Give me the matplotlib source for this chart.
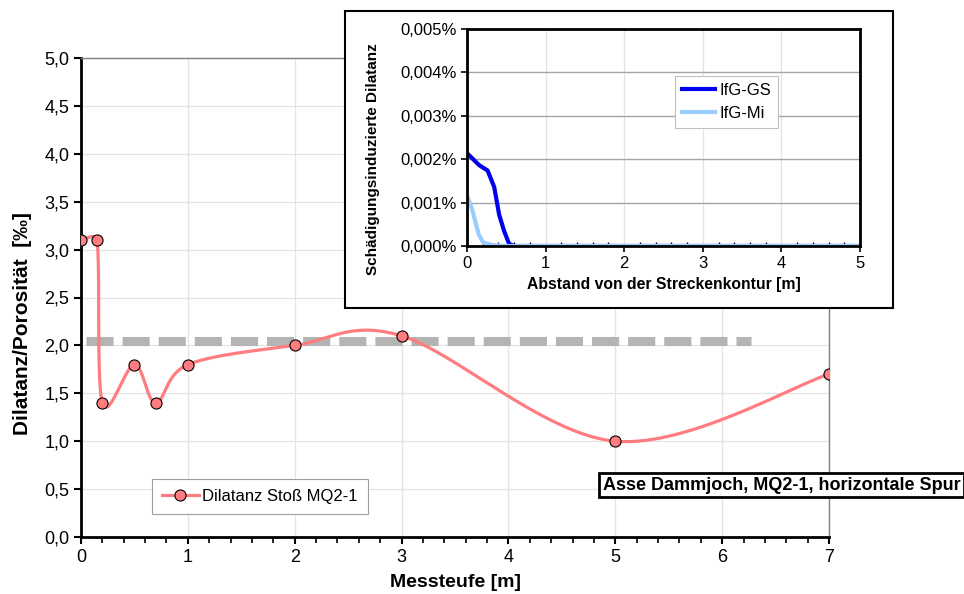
import numpy as np
import matplotlib
matplotlib.use("Agg")
import matplotlib.pyplot as plt
from matplotlib.ticker import FuncFormatter, MultipleLocator
from matplotlib.patches import Rectangle

plt.rcParams['font.family'] = ['Liberation Sans', 'DejaVu Sans']

#------------------------------------------------Daten

messteufe = [0, 0.15, 0.2, 0.5, 0.7, 1, 2, 3, 5, 7]
dilatanz = [3.1, 3.1, 1.4, 1.8, 1.4, 1.8, 2.0, 2.1, 1.0, 1.7]
grenze_x = [0.05, 6.27]
grenze_y = [2.05, 2.05]

# Inset (Werte in %)
gs_x = [0, 0.156, 0.262, 0.346, 0.409, 0.473, 0.536, 0.6, 1, 2, 3, 4, 5]
gs_y = [0.00214, 0.00186, 0.00174, 0.00136, 0.00072, 0.00034, 0.00005, 0, 0, 0, 0, 0, 0]
mi_x = [0, 0.072, 0.148, 0.207, 0.325, 0.5, 1, 2, 3, 4, 5]
mi_y = [0.00117, 0.00080, 0.00027, 0.00008, 0.00002, 0, 0, 0, 0, 0, 0]

#------------------------------------------------Fonctions

def smooth(x, y, sx=107.0, sy=96.0, n=60):
    # geglaettete Linie (Bezier 1/6, Kontrollpunkte auf halbe Sehne begrenzt)
    P = np.column_stack([np.asarray(x) * sx, np.asarray(y) * sy]).astype(float)
    m = len(P)
    out = []
    for i in range(m - 1):
        p0 = P[max(i - 1, 0)]
        p1 = P[i]
        p2 = P[i + 1]
        p3 = P[min(i + 2, m - 1)]
        ch = np.hypot(*(p2 - p1))
        v1 = (p2 - p0) / 6
        v2 = (p3 - p1) / 6
        for v in (v1, v2):
            L = np.hypot(*v)
            if L > 0.5 * ch:
                v *= 0.5 * ch / L
        b1 = p1 + v1
        b2 = p2 - v2
        t = np.linspace(0, 1, n)[:, None]
        seg = (1-t)**3*p1 + 3*(1-t)**2*t*b1 + 3*(1-t)*t**2*b2 + t**3*p2
        out.append(seg)
    out = np.vstack(out)
    return out[:, 0] / sx, out[:, 1] / sy

komma1 = FuncFormatter(lambda v, _: f"{v:.1f}".replace('.', ','))
komma0 = FuncFormatter(lambda v, _: f"{v:.0f}")
prozent = FuncFormatter(lambda v, _: f"{v:.3f}%".replace('.', ','))

#------------------------------------------------Hauptdiagramm

fig = plt.figure(figsize=(9.64, 5.94), dpi=100)
ax = fig.add_axes([81/964, 1-537/594, 748/964, 479/594])

col = '#ff7c80'
sx, sy = smooth(messteufe, dilatanz)
ax.plot(grenze_x, grenze_y, color='#b4b4b4', lw=6.5, dashes=(3.0, 1.0),
        solid_capstyle='butt', dash_capstyle='butt', zorder=2)
ax.plot(sx, sy, color=col, lw=2.3, zorder=3)
ax.plot(messteufe, dilatanz, 'o', color=col, mec='black', mew=0.8, ms=8, zorder=4)
ax.plot([], [], '-o', color=col, mec='black', mew=0.8, ms=8, lw=2.3,
        label='Dilatanz Stoß MQ2-1')

ax.set_xlim(0, 7)
ax.set_ylim(0, 5)
ax.xaxis.set_major_locator(MultipleLocator(1))
ax.xaxis.set_minor_locator(MultipleLocator(0.2))
ax.yaxis.set_major_locator(MultipleLocator(0.5))
ax.xaxis.set_major_formatter(komma0)
ax.yaxis.set_major_formatter(komma1)
ax.grid(True, which='major', color='#e3e3e3', lw=0.9)
ax.tick_params(which='major', direction='out', length=5, width=1.5, labelsize=13)
ax.tick_params(axis='x', which='minor', direction='out', length=4, width=1.2)
for s in ['left', 'bottom']:
    ax.spines[s].set_linewidth(2)
    ax.spines[s].set_color('black')
for s in ['top', 'right']:
    ax.spines[s].set_linewidth(1)
    ax.spines[s].set_color('#808080')

ax.set_xlabel('Messteufe [m]', fontsize=14, fontweight='bold', labelpad=6)
ax.set_ylabel('Dilatanz/Porosität  [‰]', fontsize=15, fontweight='bold')
ax.yaxis.set_label_coords(-0.0655, 0.445)

leg = ax.legend(loc='lower left', bbox_to_anchor=(0.095, 0.048), borderaxespad=0,
                fontsize=12, fancybox=False, edgecolor='#a0a0a0', framealpha=1,
                handlelength=2.2, borderpad=0.6, handletextpad=0.2)
leg.get_frame().set_linewidth(0.8)

fig.text(603/964, 1-485/594, 'Asse Dammjoch, MQ2-1, horizontale Spur',
         fontsize=13, fontweight='bold', va='center', ha='left',
         bbox=dict(boxstyle='square,pad=0.2', fc='white', ec='black', lw=2))

#------------------------------------------------Inset

frame = Rectangle((345/964, 1-308/594), 548/964, 297/594, transform=fig.transFigure,
                  fc='white', ec='black', lw=1.5, zorder=1)
fig.patches.append(frame)

ax2 = fig.add_axes([467/964, 1-246/594, 393/964, 217/594], zorder=2)
ax2.plot(gs_x, gs_y, color='#0000ee', lw=3, label='IfG-GS', solid_joinstyle='round')
ax2.plot(mi_x, mi_y, color='#99ccff', lw=3, label='IfG-Mi', solid_joinstyle='round')
ax2.set_xlim(0, 5)
ax2.set_ylim(0, 0.005)
ax2.xaxis.set_major_locator(MultipleLocator(1))
ax2.xaxis.set_minor_locator(MultipleLocator(0.2))
ax2.yaxis.set_major_locator(MultipleLocator(0.001))
ax2.xaxis.set_major_formatter(komma0)
ax2.yaxis.set_major_formatter(prozent)
ax2.grid(True, axis='y', color='#a6a6a6', lw=1)
ax2.grid(True, axis='x', color='#e3e3e3', lw=0.9)
ax2.set_axisbelow(True)
ax2.tick_params(which='major', direction='out', length=4, width=1.2, labelsize=12)
ax2.tick_params(axis='x', which='minor', direction='in', length=3, width=1)
for s in ax2.spines.values():
    s.set_linewidth(2)
    s.set_color('black')
ax2.set_xlabel('Abstand von der Streckenkontur [m]', fontsize=11.3, fontweight='bold', labelpad=4)
ax2.set_ylabel('Schädigungsinduzierte Dilatanz', fontsize=11, fontweight='bold')
ax2.yaxis.set_label_coords(-0.221, 0.40)
leg2 = ax2.legend(loc='upper left', bbox_to_anchor=(0.529, 0.783), borderaxespad=0,
                  fontsize=12, fancybox=False, edgecolor='#c0c0c0', framealpha=1,
                  handlelength=2.0, handletextpad=0.3, borderpad=0.4)
leg2.get_frame().set_linewidth(0.8)

plt.savefig('out.png', dpi=100)
